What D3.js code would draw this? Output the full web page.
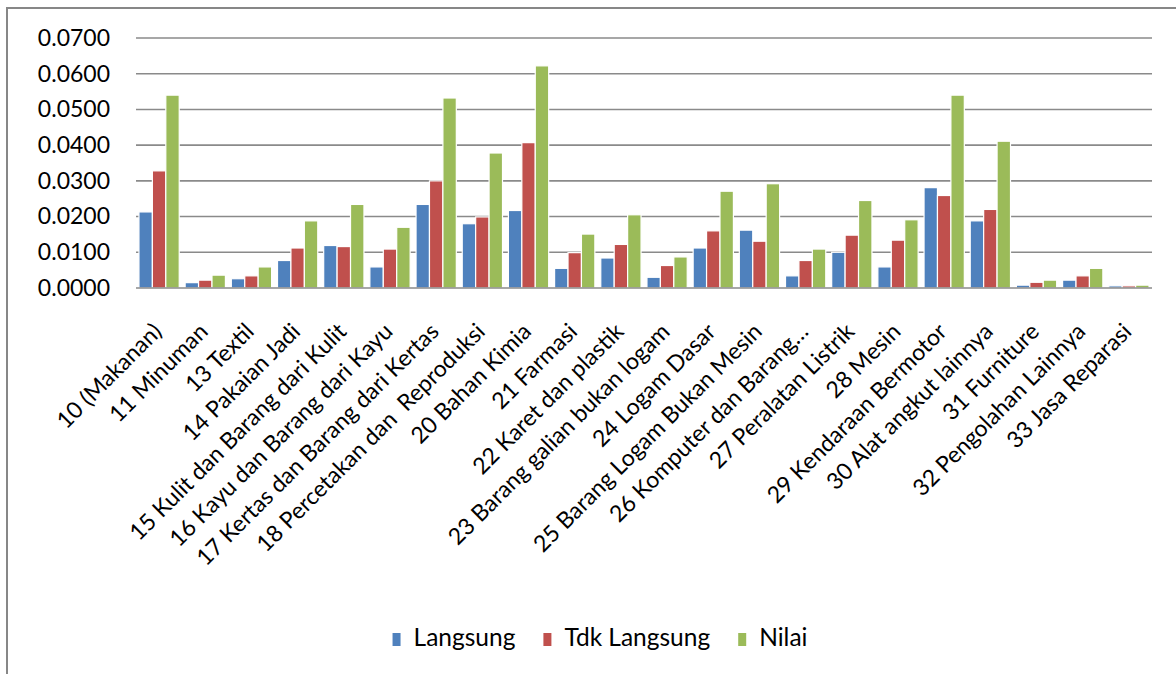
<!DOCTYPE html>
<html>
<head>
<meta charset="utf-8">
<script src="https://cdn.jsdelivr.net/npm/d3@7"></script>
<style>
  html, body { margin: 0; padding: 0; background: #fff; }
  svg { display: block; }
  text { font-family: Lato, "Open Sans", sans-serif; fill: #000; white-space: pre; }
</style>
</head>
<body>
<svg id="chart" width="1176" height="674"></svg>
<script>
const categories = [
  "10 (Makanan)", "11 Minuman", "13 Textil", "14 Pakaian Jadi",
  "15 Kulit dan Barang dari Kulit", "16 Kayu dan Barang dari Kayu",
  "17 Kertas dan Barang dari Kertas", "18 Percetakan dan  Reproduksi",
  "20 Bahan Kimia", "21 Farmasi", "22 Karet dan plastik",
  "23 Barang galian bukan logam", "24 Logam Dasar", "25 Barang Logam Bukan Mesin",
  "26 Komputer dan Barang…", "27 Peralatan Listrik", "28 Mesin",
  "29 Kendaraan Bermotor", "30 Alat angkut lainnya", "31 Furniture",
  "32 Pengolahan Lainnya", "33 Jasa Reparasi"
];
const seriesNames = ["Langsung", "Tdk Langsung", "Nilai"];
const langsung = [0.0213, 0.0015, 0.0026, 0.0077, 0.0119, 0.0059, 0.0234, 0.0180, 0.0217, 0.0055, 0.0084,
                  0.0030, 0.0112, 0.0162, 0.0034, 0.0100, 0.0059, 0.0281, 0.0188, 0.0008, 0.0022, 0.0006];
const tdkLangsung = [0.0328, 0.0022, 0.0034, 0.0112, 0.0116, 0.0109, 0.0300, 0.0199, 0.0407, 0.0099, 0.0122,
                     0.0063, 0.0160, 0.0131, 0.0077, 0.0148, 0.0134, 0.0259, 0.0220, 0.0016, 0.0034, 0.0006];
const nilai = [0.0540, 0.0036, 0.0059, 0.0188, 0.0234, 0.0170, 0.0532, 0.0378, 0.0622, 0.0151, 0.0205,
               0.0087, 0.0271, 0.0292, 0.0109, 0.0245, 0.0191, 0.0540, 0.0411, 0.0022, 0.0055, 0.0008];
const yTicks = [0, 0.01, 0.02, 0.03, 0.04, 0.05, 0.06, 0.07];
const colors = ["#4F81BD", "#C0504D", "#9BBB59"];

const seriesValues = [langsung, tdkLangsung, nilai];
const rows = categories.map((c, i) => ({
  cat: c,
  vals: seriesNames.map((s, j) => ({ key: s, value: seriesValues[j][i] }))
}));

const svg = d3.select("#chart");
const plot = { left: 136, right: 1152, top: 38, bottom: 288 };

// outer frame
svg.append("rect")
  .attr("x", 7).attr("y", 8).attr("width", 1200).attr("height", 700)
  .attr("fill", "none").attr("stroke", "#878787").attr("stroke-width", 2);

const x0 = d3.scaleBand().domain(categories).range([plot.left, plot.right]).padding(0);
const x1 = d3.scaleBand().domain(seriesNames).range([0, x0.bandwidth()])
  .paddingInner(0).paddingOuter(0.22);
const y = d3.scaleLinear().domain([0, 0.07]).range([plot.bottom, plot.top]);

// gridlines
svg.append("g")
  .selectAll("line").data(yTicks.filter(t => t > 0)).join("line")
  .attr("x1", plot.left).attr("x2", plot.right)
  .attr("y1", d => y(d)).attr("y2", d => y(d))
  .attr("stroke", "#8a8a8a").attr("stroke-width", 1.6);

// y axis labels
const yAxis = d3.axisLeft(y).tickValues(yTicks).tickFormat(d3.format(".4f"))
  .tickSize(0).tickPadding(26);
const gy = svg.append("g").attr("transform", `translate(${plot.left},0)`).call(yAxis);
gy.select(".domain").remove();
gy.selectAll("text").style("font-family", "Lato").style("font-size", "23px").attr("fill", "#000");

// bars
const groups = svg.append("g").selectAll("g").data(rows).join("g")
  .attr("transform", d => `translate(${x0(d.cat)},0)`);
groups.selectAll("rect").data(d => d.vals).join("rect")
  .attr("x", d => x1(d.key))
  .attr("width", x1.bandwidth())
  .attr("y", d => y(d.value))
  .attr("height", d => y(0) - y(d.value))
  .attr("fill", (d, i) => colors[i])
  .attr("stroke", "#fff").attr("stroke-width", 1.2);

// x axis line
svg.append("line")
  .attr("x1", plot.left).attr("x2", plot.right)
  .attr("y1", y(0)).attr("y2", y(0))
  .attr("stroke", "#8a8a8a").attr("stroke-width", 1.6);

// x labels
const xAxis = d3.axisBottom(x0).tickSize(0).tickPadding(0);
const gx = svg.append("g").attr("transform", `translate(0,${plot.bottom})`).call(xAxis);
gx.select(".domain").remove();
gx.selectAll("text")
  .style("font-family", "Lato").style("font-size", "23px").attr("fill", "#000")
  .style("white-space", "pre")
  .attr("text-anchor", "end")
  .attr("dy", null).attr("y", 0)
  .attr("transform", "translate(4,45) rotate(-45)");

// legend
const legend = svg.append("g").attr("transform", "translate(0,646)");
const items = legend.selectAll("g").data(seriesNames).join("g");
items.append("rect").attr("width", 8).attr("height", 13).attr("y", -13)
  .attr("fill", (d, i) => colors[i]);
items.append("text").attr("x", 21).attr("y", 0).text(d => d)
  .style("font-size", "24.5px");
const widths = [];
items.each(function () {
  const w = 21 + this.querySelector("text").getComputedTextLength();
  widths.push(w);
});
const gap = 28;
const total = d3.sum(widths) + gap * (widths.length - 1);
let start = 600 - total / 2;
items.attr("transform", (d, i) => {
  const t = `translate(${start},0)`;
  start += widths[i] + gap;
  return t;
});
</script>
</body>
</html>
